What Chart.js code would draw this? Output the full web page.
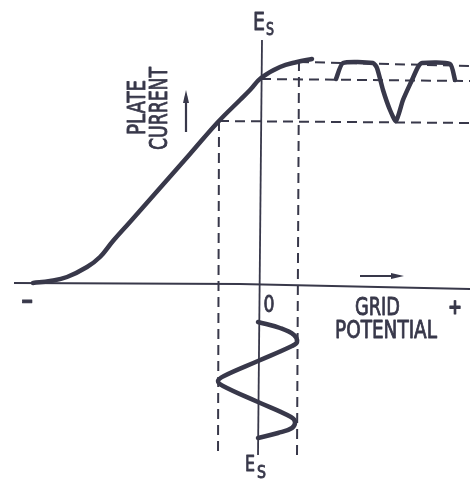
<!DOCTYPE html>
<html>
<head>
<meta charset="utf-8">
<script src="https://cdn.jsdelivr.net/npm/chart.js@4"></script>
<style>
  body { margin: 0; background: #fff; }
  canvas { display: block; }
</style>
</head>
<body>
<canvas id="chart" width="470" height="482"></canvas>
<script>
// units: grid potential (x) and plate current (y), 0 at the operating point / axis
const axisLine = [[-24.5, 0.1], [-1.9, 0], [21.1, -0.5]];
const esLine = [[0.3, 24.4], [-0.1, -17.1]];

const curveGrid    = [-22.6, -20.9, -19.2, -17.2, -15.9, -14.6, -12.9, -9.9, -6.9, -4.1, -1.9, -0.9, 0.2, 2.1, 3.8, 5.3];
const curveCurrent = [0.1, 0.3, 0.7, 1.7, 2.7, 4.3, 6.2, 9.6, 13.0, 16.2, 18.4, 19.4, 20.6, 21.7, 22.2, 22.5];

const leftSwing  = [[-4.0, 16.3], [-4.1, -17.3]];
const rightSwing = [[4.0, 22.3], [3.8, -17.3]];
const maxLevel   = [[4.0, 22.2], [21.1, 21.8]];
const restLevel  = [[0.2, 20.5], [21.1, 20.3]];
const minLevel   = [[-4.0, 16.3], [21.1, 16.1]];

const outTime    = [7.7, 8.4, 11.4, 11.8, 12.4, 13.1, 13.7, 14.4, 15.3, 15.9, 16.3, 19.1, 19.6];
const outCurrent = [20.5, 22.1, 22.1, 21.6, 19.4, 17.4, 16.3, 18.4, 20.4, 21.7, 22.1, 22.0, 20.4];

const inGrid = [-0.1, 2.1, 3.5, 3.8, 3.3, -0.1, -3.5, -4.1, -3.6, -0.1, 3.2, 3.6, 3.3, 1.9, -0.1];
const inTime = [-3.8, -4.4, -5.1, -5.8, -6.2, -7.7, -9.2, -9.7, -10.2, -11.8, -13.3, -13.8, -14.4, -14.9, -15.4];

const ink = '#38384a';

const pts = arr => arr.map(p => ({ x: p[0], y: p[1] }));
const zip = (xs, ys) => xs.map((v, i) => ({ x: v, y: ys[i] }));

function line(data, width, extra) {
    return Object.assign({
        data: data,
        showLine: true,
        borderColor: ink,
        borderWidth: width,
        pointRadius: 0,
        tension: 0,
        fill: false
    }, extra || {});
}

const dash = { borderDash: [10, 6] };

// text, baseline position in chart units, target width px, font size, rotation
const labels = [
    { text: 'E', x: 0, y: 25.4, w: 12, size: 24 },
    { text: 'S', x: 1.1, y: 24.9, w: 8, size: 18 },
    { text: 'E', x: -0.9, y: -18.7, w: 10, size: 22 },
    { text: 'S', x: 0.25, y: -19.4, w: 9, size: 17 },
    { text: 'PLATE', x: -11.4, y: 17.65, w: 55, size: 25, rot: -Math.PI / 2 },
    { text: 'CURRENT', x: -9.2, y: 17.55, w: 83, size: 25, rot: -Math.PI / 2 },
    { text: '0', x: 1.0, y: -2.8, w: 11, size: 23 },
    { text: 'GRID', x: 11.85, y: -3.1, w: 45, size: 25 },
    { text: 'POTENTIAL', x: 12.7, y: -5.4, w: 102, size: 25 },
    { text: '+', x: 19.6, y: -3.0, w: 14, size: 22, bold: true },
    { text: '\u2212', x: -23.2, y: -2.5, w: 13, size: 24, bold: true }
];

const arrows = [
    { from: [-7.3, 15.2], to: [-7.3, 19.4] },
    { from: [10.1, 0.8], to: [14.5, 0.8] }
];

const labelPlugin = {
    id: 'labels',
    afterDatasetsDraw(chart) {
        const { ctx, scales: { x, y } } = chart;
        ctx.save();
        ctx.fillStyle = ink;
        ctx.strokeStyle = ink;
        ctx.textAlign = 'center';
        ctx.textBaseline = 'alphabetic';
        labels.forEach(l => {
            ctx.save();
            ctx.translate(x.getPixelForValue(l.x), y.getPixelForValue(l.y));
            if (l.rot) ctx.rotate(l.rot);
            ctx.font = (l.bold ? 'bold ' : '') + l.size + 'px "DejaVu Sans", sans-serif';
            const w = ctx.measureText(l.text).width;
            ctx.scale(l.w / w, 1);
            ctx.fillText(l.text, 0, 0);
            ctx.lineWidth = 0.9;
            ctx.lineJoin = 'round';
            ctx.strokeText(l.text, 0, 0);
            ctx.restore();
        });

        arrows.forEach(a => {
            const x0 = x.getPixelForValue(a.from[0]), y0 = y.getPixelForValue(a.from[1]);
            const x1 = x.getPixelForValue(a.to[0]), y1 = y.getPixelForValue(a.to[1]);
            const ang = Math.atan2(y1 - y0, x1 - x0);
            ctx.lineWidth = 2.2;
            ctx.beginPath();
            ctx.moveTo(x0, y0);
            ctx.lineTo(x1 - 6 * Math.cos(ang), y1 - 6 * Math.sin(ang));
            ctx.stroke();
            ctx.save();
            ctx.translate(x1, y1);
            ctx.rotate(ang);
            ctx.beginPath();
            ctx.moveTo(0, 0);
            ctx.lineTo(-13, -3);
            ctx.lineTo(-13, 3);
            ctx.closePath();
            ctx.fill();
            ctx.restore();
        });
        ctx.restore();
    }
};

new Chart(document.getElementById('chart'), {
    type: 'scatter',
    data: {
        datasets: [
            line(pts(axisLine), 2),
            line(pts(esLine), 1.8),
            line(pts(leftSwing), 2, dash),
            line(pts(rightSwing), 2, dash),
            line(pts(maxLevel), 2, dash),
            line(pts(restLevel), 2, dash),
            line(pts(minLevel), 2, dash),
            line(zip(curveGrid, curveCurrent), 4.5, { tension: 0.4, borderCapStyle: 'round' }),
            line(zip(outTime, outCurrent), 4.5, { tension: 0.2, borderJoinStyle: 'round', borderCapStyle: 'round' }),
            line(zip(inGrid, inTime), 4.5, { tension: 0.4, borderCapStyle: 'round' })
        ]
    },
    options: {
        responsive: false,
        animation: false,
        devicePixelRatio: 1,
        layout: { padding: 0 },
        plugins: {
            legend: { display: false },
            tooltip: { enabled: false }
        },
        scales: {
            x: { type: 'linear', min: -25.9, max: 21.1, display: false },
            y: { type: 'linear', min: -19.8, max: 28.4, display: false }
        }
    },
    plugins: [labelPlugin]
});
</script>
</body>
</html>
